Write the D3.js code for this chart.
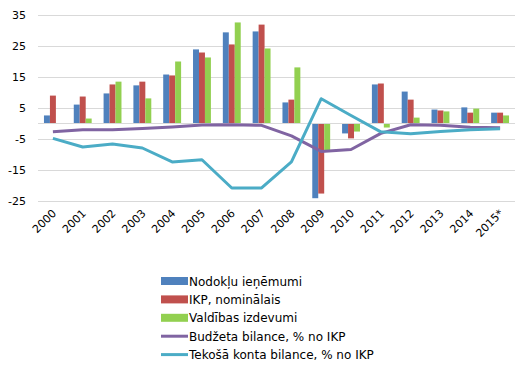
<!DOCTYPE html>
<html><head><meta charset="utf-8">
<script src="https://cdn.jsdelivr.net/npm/d3@7"></script>
<style>body{margin:0;background:#fff}svg{display:block}text{font-family:"DejaVu Sans",Verdana,sans-serif;fill:#000}</style>
</head><body><svg id="c" width="525" height="379"></svg>
<script>
const years = ["2000","2001","2002","2003","2004","2005","2006","2007","2008","2009","2010","2011","2012","2013","2014","2015*"];
const taxRevenue = [2.6,6.1,9.7,12.3,15.8,23.9,29.4,29.7,6.8,-24.1,-3.2,12.6,10.3,4.5,5.2,3.5];
const gdpNominal = [9.0,8.7,12.6,13.5,15.5,22.9,25.5,31.9,7.7,-22.6,-4.8,12.9,7.7,4.2,3.5,3.5];
const govSpending = [0,1.6,13.5,8.1,20.0,21.3,32.6,24.2,18.1,-8.7,-2.6,-1.3,1.9,3.9,4.8,2.6];
const budgetBalance = [-2.7,-2.0,-2.0,-1.6,-1.1,-0.5,-0.4,-0.6,-4.0,-9.0,-8.4,-3.2,-0.4,-0.6,-1.2,-1.4];
const currentAccount = [-4.8,-7.6,-6.6,-7.9,-12.4,-11.7,-20.8,-20.8,-12.4,8.0,2.6,-2.7,-3.3,-2.6,-2.0,-1.7];
const yTicks = [-25,-15,-5,5,15,25,35];
const barSeries = [
  {name:"Nodokļu ieņēmumi", values:taxRevenue, color:"#4f81bd"},
  {name:"IKP, nominālais", values:gdpNominal, color:"#c0504d"},
  {name:"Valdības izdevumi", values:govSpending, color:"#92d050"}
];
const lineSeries = [
  {name:"Budžeta bilance, % no IKP", values:budgetBalance, color:"#8064a2"},
  {name:"Tekošā konta bilance, % no IKP", values:currentAccount, color:"#4bacc6"}
];

const svg = d3.select("#c");
const x = d3.scaleBand().domain(years).range([38,515]);
const y = d3.scaleLinear().domain([-25,35]).range([201,15]);
const inner = d3.scaleBand().domain([0,1,2]).range([x.bandwidth()*0.2, x.bandwidth()*0.8]);

svg.append("g").selectAll("line").data(yTicks).join("line")
  .attr("x1",38).attr("x2",515).attr("y1",d=>Math.round(y(d))+0.5).attr("y2",d=>Math.round(y(d))+0.5)
  .attr("stroke","#d9d9d9").attr("stroke-width",1);

svg.append("g").selectAll("text").data(yTicks).join("text")
  .attr("x",26).attr("y",d=>y(d)+4).attr("text-anchor","end").style("font-size","11px").text(d=>d);

barSeries.forEach((s,i)=>{
  svg.append("g").selectAll("rect").data(s.values).join("rect")
    .attr("x",(d,j)=>x(years[j])+inner(i))
    .attr("width",inner.bandwidth())
    .attr("y",d=>Math.min(y(d),y(0)))
    .attr("height",d=>Math.abs(y(d)-y(0)))
    .attr("fill",s.color);
});

svg.append("line").attr("x1",38).attr("x2",515).attr("y1",Math.round(y(0))+0.5).attr("y2",Math.round(y(0))+0.5)
  .attr("stroke","#d9d9d9");

const line = d3.line().x((d,j)=>x(years[j])+x.bandwidth()/2).y(d=>y(d));
lineSeries.forEach(s=>{
  svg.append("path").datum(s.values).attr("d",line).attr("fill","none")
    .attr("stroke",s.color).attr("stroke-width",3).attr("stroke-linejoin","round");
});

svg.append("g").selectAll("text").data(years).join("text")
  .attr("transform",d=>`translate(${x(d)+x.bandwidth()/2+4},${214}) rotate(-45)`)
  .attr("text-anchor","end").style("font-size","11px").text(d=>d);

const legendItems = barSeries.map(s=>({...s,type:"bar"})).concat(lineSeries.map(s=>({...s,type:"line"})));
const lg = svg.append("g");
legendItems.forEach((s,i)=>{
  const cy = 281 + i*18.4;
  if(s.type==="bar"){
    lg.append("rect").attr("x",161).attr("y",cy-4).attr("width",27).attr("height",8).attr("fill",s.color);
  } else {
    lg.append("line").attr("x1",161).attr("x2",188).attr("y1",cy).attr("y2",cy).attr("stroke",s.color).attr("stroke-width",3);
  }
  lg.append("text").attr("x",189).attr("y",cy+4.5).style("font-size","12px").text(s.name);
});
</script></body></html>
